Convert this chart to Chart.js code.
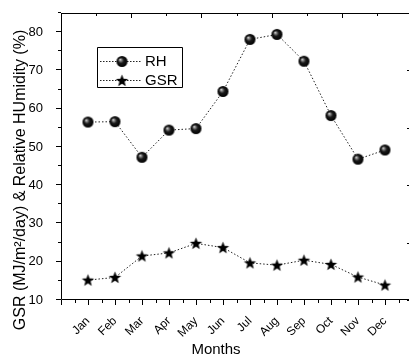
<!DOCTYPE html>
<html>
<head>
<meta charset="utf-8">
<script src="https://cdn.jsdelivr.net/npm/chart.js@4.4.1/dist/chart.umd.min.js"></script>
<style>
  html, body { margin: 0; padding: 0; background: #fff; overflow: hidden; }
  #wrap { width: 412px; height: 355px; }
</style>
</head>
<body>
<div id="wrap"><canvas id="c" width="412" height="355"></canvas></div>
<script>
// ---- data ----
const months = ['Jan','Feb','Mar','Apr','May','Jun','Jul','Aug','Sep','Oct','Nov','Dec'];
const rhValues = [56.5, 56.6, 47.3, 54.4, 54.8, 64.5, 78.1, 79.4, 72.4, 58.2, 46.8, 49.2];
const gsrValues = [15.2, 15.9, 21.5, 22.3, 24.8, 23.7, 19.7, 19.1, 20.4, 19.3, 16.0, 13.9];
const yTickValues = [10, 20, 30, 40, 50, 60, 70, 80];
const seriesNames = ['RH', 'GSR'];
const yTitle = 'GSR (MJ/m\u00B2/day) & Relative HUmidity (%)';
const xTitle = 'Months';

const FONT = "'Liberation Sans', Arial, sans-serif";

// sphere marker
function makeSphere(r) {
  const s = Math.ceil(r * 2 + 2);
  const cv = document.createElement('canvas');
  cv.width = s; cv.height = s;
  const g = cv.getContext('2d');
  const c = s / 2;
  const grad = g.createRadialGradient(c - r * 0.35, c - r * 0.35, 0, c, c, r);
  grad.addColorStop(0, '#f0f0f0');
  grad.addColorStop(0.2, '#8a8a8a');
  grad.addColorStop(0.5, '#1a1a1a');
  grad.addColorStop(1, '#000');
  g.beginPath(); g.arc(c, c, r, 0, Math.PI * 2);
  g.fillStyle = grad; g.fill();
  return cv;
}
// filled 5-point star marker
function makeStar(r) {
  const s = Math.ceil(r * 2 + 2);
  const cv = document.createElement('canvas');
  cv.width = s; cv.height = s;
  const g = cv.getContext('2d');
  const c = s / 2;
  g.beginPath();
  for (let i = 0; i < 10; i++) {
    const rr = i % 2 === 0 ? r : r * 0.42;
    const a = -Math.PI / 2 + i * Math.PI / 5;
    const px = c + rr * Math.cos(a), py = c + 0.5 + rr * Math.sin(a);
    if (i === 0) g.moveTo(px, py); else g.lineTo(px, py);
  }
  g.closePath();
  g.fillStyle = '#000'; g.fill();
  return cv;
}
const sphere = makeSphere(5.5);
const star = makeStar(6.5);
const markers = [sphere, star];

const decor = {
  id: 'decor',
  afterDraw(chart) {
    const ctx = chart.ctx;
    const a = chart.chartArea;
    const xs = chart.scales.x, ys = chart.scales.y;
    ctx.save();
    ctx.strokeStyle = '#000';
    ctx.lineWidth = 1;
    // frame
    ctx.beginPath();
    ctx.moveTo(a.left + 0.5, a.top + 0.5);
    ctx.lineTo(a.right - 0.5, a.top + 0.5);
    ctx.lineTo(a.right - 0.5, a.bottom - 0.5);
    ctx.lineTo(a.left + 0.5, a.bottom - 0.5);
    ctx.closePath();
    ctx.stroke();
    ctx.beginPath();
    // bottom ticks (outward)
    for (let v = 0; v <= xs.max + 1e-9; v += 0.5) {
      const px = Math.round(xs.getPixelForValue(v)) + 0.5;
      const len = Number.isInteger(v) ? 5 : 3;
      ctx.moveTo(px, a.bottom); ctx.lineTo(px, a.bottom + len);
    }
    // left ticks (outward)
    for (let v = ys.min; v <= ys.max + 1e-9; v += 5) {
      const py = Math.round(ys.getPixelForValue(v)) - 0.5;
      const len = (v % 10 === 0) ? 5 : 3;
      ctx.moveTo(a.left, py); ctx.lineTo(a.left - len, py);
    }
    // top ticks (inward) and right ticks (inward): mirrored frame axis in fifths
    for (let i = 0; i <= 10; i++) {
      const f = i / 10;
      const len = i % 2 === 0 ? 5 : 3;
      const px = Math.round(a.left + f * (a.right - a.left)) + 0.5;
      ctx.moveTo(px, a.top); ctx.lineTo(px, a.top + len);
      const py = Math.round(a.bottom - f * (a.bottom - a.top)) + 0.5;
      ctx.moveTo(a.right, py); ctx.lineTo(a.right - len, py);
    }
    ctx.stroke();

    // axis titles
    ctx.fillStyle = '#000';
    ctx.textAlign = 'center';
    ctx.textBaseline = 'alphabetic';
    ctx.font = '15px ' + FONT;
    ctx.fillText(xTitle, 216, 354);
    ctx.save();
    ctx.font = '16px ' + FONT;
    ctx.translate(25, 180);
    ctx.rotate(-Math.PI / 2);
    ctx.fillText(yTitle, 0, 0);
    ctx.restore();

    // legend
    const lx = 97, ly = 47, lw = 85, lh = 40;
    ctx.beginPath();
    ctx.rect(lx + 0.5, ly + 0.5, lw, lh);
    ctx.stroke();
    ctx.font = '15px ' + FONT;
    ctx.textAlign = 'left';
    ctx.textBaseline = 'middle';
    chart.data.datasets.forEach((ds, i) => {
      const y = ly + 14 + i * 19;
      ctx.save();
      ctx.setLineDash([1.5, 1.5]);
      ctx.strokeStyle = '#222';
      ctx.beginPath();
      ctx.moveTo(lx + 3, y + 0.5); ctx.lineTo(lx + 45, y + 0.5);
      ctx.stroke();
      ctx.restore();
      const m = markers[i];
      ctx.drawImage(m, lx + 25 - m.width / 2, y + 0.5 - m.height / 2);
      ctx.fillText(ds.label, lx + 48, y + 1);
    });
    ctx.restore();
  }
};

const toPoints = arr => arr.map((v, i) => ({ x: i + 1, y: v }));

new Chart(document.getElementById('c'), {
  type: 'line',
  data: {
    datasets: [
      {
        label: seriesNames[0],
        data: toPoints(rhValues),
        borderColor: '#222',
        borderWidth: 1,
        borderDash: [1.5, 2],
        pointStyle: sphere,
        pointRadius: 6,
        tension: 0,
        fill: false
      },
      {
        label: seriesNames[1],
        data: toPoints(gsrValues),
        borderColor: '#222',
        borderWidth: 1,
        borderDash: [1.5, 2],
        pointStyle: star,
        pointRadius: 7,
        tension: 0,
        fill: false
      }
    ]
  },
  options: {
    responsive: false,
    animation: false,
    devicePixelRatio: 1,
    layout: { autoPadding: false, padding: { top: 13, right: 0, left: 0, bottom: 0 } },
    plugins: { legend: { display: false }, tooltip: { enabled: false } },
    scales: {
      x: {
        type: 'linear',
        min: 0,
        max: 13,
        grid: { display: false },
        border: { display: false },
        afterBuildTicks: s => { s.ticks = months.map((m, i) => ({ value: i + 1 })); },
        afterFit: s => { s.height = 55; s.paddingLeft = 0; s.paddingRight = 0; },
        ticks: {
          autoSkip: false,
          minRotation: 45,
          maxRotation: 45,
          padding: 6,
          color: '#000',
          font: { family: FONT, size: 12 },
          callback: v => months[v - 1]
        }
      },
      y: {
        type: 'linear',
        min: 10,
        max: 85,
        grid: { display: false },
        border: { display: false },
        afterBuildTicks: s => { s.ticks = yTickValues.map(v => ({ value: v })); },
        afterFit: s => { s.width = 61; s.paddingTop = 0; s.paddingBottom = 0; },
        ticks: {
          padding: 10,
          color: '#000',
          font: { family: FONT, size: 13 }
        }
      }
    }
  },
  plugins: [decor]
});
</script>
</body>
</html>
